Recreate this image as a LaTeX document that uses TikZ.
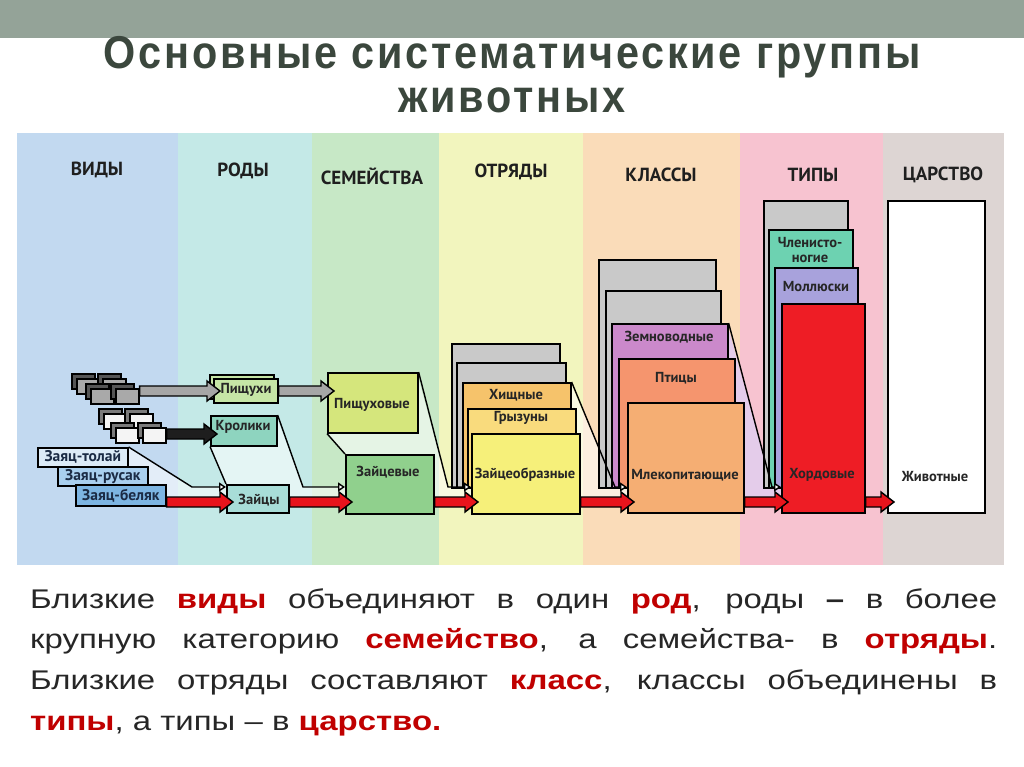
\documentclass[tikz,border=0pt]{standalone}
\usepackage{fontspec}
\setmainfont{Liberation Sans}
\newfontfamily\titlefont{Liberation Sans}[FakeStretch=0.9,LetterSpace=6]
\newfontfamily\capfont{Liberation Sans}[FakeStretch=1.22]
\newfontfamily\lblfont{PT Sans}
\usetikzlibrary{calc,shadows,arrows.meta}

\definecolor{barcol}{HTML}{94A398}
\definecolor{titlecol}{HTML}{3B473D}
\definecolor{textdark}{HTML}{262626}
\definecolor{textred}{HTML}{C00000}
\definecolor{colV}{HTML}{C2D9F0}
\definecolor{colR}{HTML}{C4E9E7}
\definecolor{colS}{HTML}{C7E8C6}
\definecolor{colO}{HTML}{F2F5BE}
\definecolor{colK}{HTML}{FADCB9}
\definecolor{colT}{HTML}{F7C3D0}
\definecolor{colC}{HTML}{DDD5D3}
\definecolor{hareA}{HTML}{DCEBF7}
\definecolor{hareB}{HTML}{A9CFEE}
\definecolor{hareC}{HTML}{7DB5E2}
\definecolor{pika}{HTML}{C6E6A6}
\definecolor{rabbit}{HTML}{8ED4BF}
\definecolor{hares}{HTML}{A8DDD8}
\definecolor{pikafam}{HTML}{D5E67C}
\definecolor{harefam}{HTML}{90D08D}
\definecolor{carn}{HTML}{F6C36B}
\definecolor{rodent}{HTML}{F9DB7D}
\definecolor{lago}{HTML}{F6F07A}
\definecolor{amph}{HTML}{CB89CB}
\definecolor{bird}{HTML}{F5956E}
\definecolor{mamm}{HTML}{F5AE73}
\definecolor{arth}{HTML}{6DD2B1}
\definecolor{moll}{HTML}{A8A2DC}
\definecolor{chord}{HTML}{EE1D25}
\definecolor{boxgray}{HTML}{C9C9C9}
\definecolor{cardgray}{HTML}{A9A9A9}
\definecolor{cardwhite}{HTML}{F4F4F4}
\definecolor{arrred}{HTML}{E8141C}
\definecolor{arrgray}{HTML}{A6A6A6}
\definecolor{arrblack}{HTML}{1E1E1E}
\definecolor{lilac}{HTML}{E4CCEA}

\newcommand{\kw}[1]{\textcolor{textred}{\textbf{#1}}}

% horizontal fat arrow between two boxes, at the level of a coordinate
\newcommand{\fatarrow}[4]{%
  \draw[line width=1.4pt, line join=miter, fill=#4]
    let \p1 = (#1.east |- #3), \p2 = (#2.west |- #3) in
    (\x1,\y1+5pt) -- (\x2-6pt,\y1+5pt) -- (\x2-6pt,\y1+10pt) -- (\x2+7pt,\y1)
    -- (\x2-6pt,\y1-10pt) -- (\x2-6pt,\y1-5pt) -- (\x1,\y1-5pt) -- cycle;}

\begin{document}
\begin{tikzpicture}[x=1pt, y=-1pt,
    box/.style={draw, line width=1.6pt, anchor=north west, inner sep=0pt},
    card/.style={box, fill=#1, minimum width=23pt, minimum height=15pt,
      copy shadow={shadow xshift=-5pt, shadow yshift=5pt, fill=#1!50!black}},
    hare/.style={box, fill=#1, minimum width=90pt, minimum height=19pt},
    lbl/.style={font=\lblfont\bfseries\fontsize{14.5}{15}\selectfont, text=black!85, inner sep=0pt},
    harelbl/.style={inner sep=0pt, font=\lblfont\bfseries\fontsize{15.5}{16}\selectfont, text={rgb,255:red,27;green,43;blue,68}},
    hdr/.style={font=\lblfont\bfseries\fontsize{19}{20}\selectfont, text=black!88, inner sep=0pt},
    titletext/.style={font=\titlefont\bfseries\fontsize{46}{46}\selectfont, text=titlecol, anchor=base, inner sep=0pt},
    funfill/.style={fill=white, fill opacity=0.55},
    funline/.style={line width=1.4pt, -{Triangle[fill=white, length=7pt, width=9pt]}}
    ]

    \useasboundingbox (0,0) rectangle (1024,767);
    \fill[barcol] (0,0) rectangle (1024,38);

    \node[titletext] (title1) at (512,69) {Основные систематические группы};
    \node[titletext] (title2) at (512,113) {животных};

    % columns
    \fill[colV] (17,133) rectangle (178,565);
    \fill[colR] (178,133) rectangle (312,565);
    \fill[colS] (312,133) rectangle (439,565);
    \fill[colO] (439,133) rectangle (583,565);
    \fill[colK] (583,133) rectangle (740,565);
    \fill[colT] (740,133) rectangle (883,565);
    \fill[colC] (883,133) rectangle (1004,565);

    \node[hdr] (h-vid) at (97,170) {ВИДЫ};
    \node[hdr] (h-rod) at (243,171) {РОДЫ};
    \node[hdr] (h-sem) at (372,176) {СЕМЕЙСТВА};
    \node[hdr] (h-otr) at (511,172) {ОТРЯДЫ};
    \node[hdr] (h-kls) at (661,175) {КЛАССЫ};
    \node[hdr] (h-tip) at (813,175) {ТИПЫ};
    \node[hdr] (h-car) at (943,175) {ЦАРСТВО};

    \coordinate (redline) at (0,502);
    \coordinate (grayline) at (0,391);
    \coordinate (blackline) at (0,434);

    % funnels
    \fill[funfill] (127,447) -- (192,487) -- (228,487) -- (228,507) -- (127,507) -- cycle;
    \fill[funfill] (210,445) -- (276,445) -- (276,415) -- (303,487) -- (345,487) -- (345,507) -- (226,507) -- (226,487) -- cycle;
    \fill[funfill] (327,432) -- (417,432) -- (417,373) -- (448,487) -- (472,487) -- (472,507) -- (345,507) -- (345,454) -- cycle;
    \fill[funfill] (570,382) -- (615,487) -- (630,487) -- (630,507) -- (570,507) -- cycle;
    \fill[lilac] (727,323) -- (772,487) -- (783,487) -- (783,507) -- (727,507) -- cycle;

    % species
    \node[hare=hareA] (tolai) at (37,447) {};
    \node[hare=hareB] (rusak) at (57,466) {};
    \node[hare=hareC, minimum height=21pt] (beliak) at (75,484) {};

    \node[card=cardgray] (g1) at (76,378) {};
    \node[card=cardgray] (g2) at (102,378) {};
    \node[card=cardgray] (g3) at (90,388) {};
    \node[card=cardgray] (g4) at (115,388) {};
    \node[card=cardwhite] (w1) at (103,413) {};
    \node[card=cardwhite] (w2) at (129,413) {};
    \node[card=cardwhite] (w3) at (115,427) {};
    \node[card=cardwhite] (w4) at (142,427) {};

    % genera
    \node[box, fill=pika, minimum width=64pt, minimum height=24pt,
      copy shadow={shadow xshift=-4pt, shadow yshift=4pt}] (pishchukhi) at (213,378) {};
    \node[box, fill=rabbit, minimum width=66pt, minimum height=30pt] (kroliki) at (210,415) {};
    \node[box, fill=hares, minimum width=62pt, minimum height=28pt] (zaitsy) at (226,484) {};

    % families
    \node[box, fill=pikafam, minimum width=90pt, minimum height=60pt] (pishchukhovye) at (327,372) {};
    \node[box, fill=harefam, minimum width=88pt, minimum height=59pt] (zaitsevye) at (345,454) {};

    % orders
    \node[box, fill=boxgray, minimum width=108pt, minimum height=144pt] (ord1) at (451,343) {};
    \node[box, fill=boxgray, minimum width=109pt, minimum height=125pt] (ord2) at (456,362) {};
    \node[box, fill=carn, minimum width=108pt, minimum height=105pt] (khishchnye) at (462,382) {};
    \node[box, fill=rodent, minimum width=108pt, minimum height=79pt] (gryzuny) at (467,408) {};
    \node[box, fill=lago, minimum width=108pt, minimum height=80pt] (zaitseobraznye) at (471,433) {};

    % classes
    \node[box, fill=boxgray, minimum width=117pt, minimum height=228pt] (cls1) at (598,259) {};
    \node[box, fill=boxgray, minimum width=115pt, minimum height=197pt] (cls2) at (605,290) {};
    \node[box, fill=amph, minimum width=116pt, minimum height=164pt] (zemnovodnye) at (611,323) {};
    \node[box, fill=bird, minimum width=116pt, minimum height=129pt] (ptitsy) at (618,358) {};
    \node[box, fill=mamm, minimum width=116pt, minimum height=110pt] (mlekopit) at (627,402) {};

    % phyla
    \node[box, fill=boxgray, minimum width=84pt, minimum height=287pt] (typ1) at (763,200) {};
    \node[box, fill=arth, minimum width=84pt, minimum height=258pt] (chlenist) at (768,229) {};
    \node[box, fill=moll, minimum width=83pt, minimum height=220pt] (mollyuski) at (774,267) {};
    \node[box, fill=chord, minimum width=83pt, minimum height=209pt] (khordovye) at (781,303) {};

    % kingdom
    \node[box, fill=white, minimum width=97pt, minimum height=312pt] (zhivotnye) at (887,200) {};

    % funnel edges
    \coordinate (b1) at (192,487);
    \coordinate (b2) at (303,487);
    \coordinate (b3) at (448,487);
    \coordinate (b4) at (615,487);
    \coordinate (b5) at (772,487);
    \draw[funline] (tolai.north east) -- (b1) -- (zaitsy.west |- b1);
    \draw[line width=1.4pt] (kroliki.south west) -- (zaitsy.north west);
    \draw[funline] (kroliki.north east) -- (b2) -- (zaitsevye.west |- b2);
    \draw[line width=1.4pt] (pishchukhovye.south west) -- (zaitsevye.north west);
    \draw[funline] (pishchukhovye.north east) -- (b3) -- (zaitseobraznye.west |- b3);
    \draw[funline] (khishchnye.north east) -- (b4) -- (mlekopit.west |- b4);
    \draw[funline] (zemnovodnye.north east) -- (b5) -- (khordovye.west |- b5);

    % arrows
    \fatarrow{g4}{pishchukhi}{grayline}{arrgray}
    \fatarrow{pishchukhi}{pishchukhovye}{grayline}{arrgray}
    \fatarrow{w4}{kroliki}{blackline}{arrblack}
    \fatarrow{beliak}{zaitsy}{redline}{arrred}
    \fatarrow{zaitsy}{zaitsevye}{redline}{arrred}
    \fatarrow{zaitsevye}{zaitseobraznye}{redline}{arrred}
    \fatarrow{zaitseobraznye}{mlekopit}{redline}{arrred}
    \fatarrow{mlekopit}{khordovye}{redline}{arrred}
    \fatarrow{khordovye}{zhivotnye}{redline}{arrred}

    % labels
    \node[harelbl] (tolai-t) at (tolai.center) {Заяц-толай};
    \node[harelbl] (rusak-t) at (rusak.center) {Заяц-русак};
    \node[harelbl] (beliak-t) at (beliak.center) {Заяц-беляк};
    \node[lbl] (pishchukhi-t) at (246,390) {Пищухи};
    \node[lbl] (kroliki-t) at (243,427) {Кролики};
    \node[lbl] (zaitsy-t) at (259,500) {Зайцы};
    \node[lbl] (pishchukhovye-t) at (372,405) {Пищуховые};
    \node[lbl] (zaitsevye-t) at (388,472) {Зайцевые};
    \node[lbl] (khishchnye-t) at (516,395) {Хищные};
    \node[lbl] (gryzuny-t) at (521,418) {Грызуны};
    \node[lbl] (zaitseobraznye-t) at (525,475) {Зайцеобразные};
    \node[lbl] (zemnovodnye-t) at (669,337) {Земноводные};
    \node[lbl] (ptitsy-t) at (676,378) {Птицы};
    \node[lbl] (mlekopit-t) at (685,475) {Млекопитающие};
    \node[lbl, align=center, font=\lblfont\bfseries\fontsize{14.5}{15}\selectfont] (chlenist-t) at (810,250) {Членисто-\\ногие};
    \node[lbl] (mollyuski-t) at (816,287) {Моллюски};
    \node[lbl] (khordovye-t) at (822,475) {Хордовые};
    \node[lbl] (zhivotnye-t) at (935,477) {Животные};

    % caption
    \node[anchor=north west, inner sep=0pt, text width=967pt, align=justify, text=textdark,
      font=\capfont\fontsize{27}{40.7}\selectfont] (caption) at (30,588) {%
      \hyphenpenalty=10000 \exhyphenpenalty=10000
      Близкие \kw{виды} объединяют в один \kw{род}, роды \textbf{–} в более\linebreak
      крупную категорию \kw{семейство}, а семейства- в \kw{отряды}.\linebreak
      Близкие отряды составляют \kw{класс}, классы объединены в\linebreak
      \kw{типы}, а типы – в \kw{царство.}};

\end{tikzpicture}
\end{document}
